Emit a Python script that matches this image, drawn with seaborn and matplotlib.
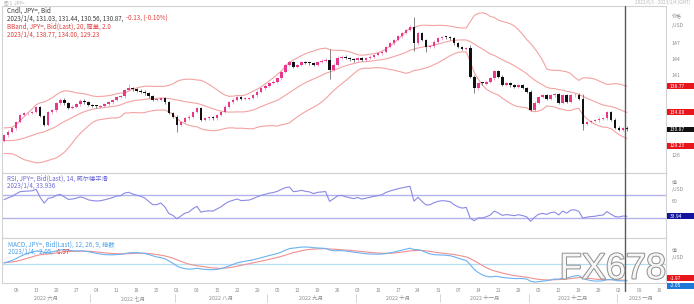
import numpy as np
import pandas as pd
import matplotlib
matplotlib.use("Agg")
import matplotlib.pyplot as plt
import seaborn as sns
from matplotlib import patheffects as pe
from matplotlib.lines import Line2D
from matplotlib.patches import Rectangle
from matplotlib.transforms import blended_transform_factory as blend

W, H = 694, 304

# ---------------- data ----------------
# closes before the first drawn day (Apr-May 2022), only used to warm up the indicators
warmup_closes = [122.5, 122.8, 123.6, 123.8, 123.9, 124.3, 125.4, 125.4, 125.6, 125.9,
                 126.4, 126.9, 128.9, 127.8, 128.4, 128.5, 128.1, 127.3, 128.4, 130.8,
                 129.8, 130.1, 130.1, 129.1, 130.2, 130.6, 130.3, 130.4, 129.9, 128.3,
                 129.2, 129.1, 129.4, 128.2, 127.8, 127.9, 127.9, 126.8, 127.3, 127.1,
                 127.1, 127.6, 128.7]

# daily closes, 2022-06-01 .. 2023-01-04 (weekdays)
closes_jun = [129.7, 130.4, 131.0, 132.2, 133.5, 133.8, 133.9, 134.1, 135.0, 133.3, 131.7,
              134.0, 134.4, 135.7, 136.4, 135.7, 134.9, 135.1, 135.5, 136.2, 135.9, 135.4]
closes_jul = [135.2, 135.1, 135.2, 135.5, 135.9, 136.3, 136.9, 137.0, 138.2, 138.6, 138.3,
              138.1, 137.9, 137.6, 137.0, 136.3, 136.3, 136.7, 135.9, 133.9, 133.2]
closes_aug = [131.6, 132.2, 132.9, 133.2, 134.1, 134.8, 132.6, 132.9, 133.0, 132.9, 133.5,
              134.1, 135.1, 135.9, 136.4, 136.9, 136.5, 136.6, 136.7, 137.2, 137.9, 138.5, 139.0]
closes_sep = [139.5, 139.8, 140.4, 141.6, 142.9, 143.5, 142.6, 142.9, 143.5, 143.3, 143.2,
              142.9, 143.5, 143.7, 143.9, 142.0, 143.0, 144.3, 144.5, 144.2, 144.0, 143.8]
closes_oct = [144.2, 143.9, 144.2, 144.5, 144.8, 145.1, 145.4, 146.3, 147.0, 147.6, 148.3,
              148.9, 149.5, 150.1, 147.0, 148.9, 147.6, 146.3, 146.4, 147.3, 147.9]
closes_nov = [148.2, 148.1, 147.9, 147.0, 146.3, 145.9, 146.1, 140.7, 138.5, 139.5, 139.4,
              139.8, 140.4, 141.8, 140.7, 139.2, 139.5, 139.1, 138.8, 139.1, 138.6, 137.9]
closes_dec = [134.5, 135.8, 136.9, 137.2, 136.6, 137.2, 137.4, 135.8, 137.2, 136.0, 137.2,
              137.3, 136.5, 131.8, 132.2, 132.4, 132.5, 132.8, 132.9, 134.1, 132.6, 131.1]
closes_jan = [130.7, 131.03, 130.87]

# notable wicks (index -> price)
wick_high = {31: 139.4, 81: 145.9, 102: 151.94, 116: 146.6, 144: 137.4, 155: 131.44}
wick_low = {43: 130.4, 81: 140.3, 102: 145.5, 105: 145.3, 117: 137.7, 144: 130.6, 155: 130.56}

month_names = {1: "一月", 6: "六月", 7: "七月", 8: "八月", 9: "九月",
               10: "十月", 11: "十一月", 12: "十二月"}

legend_cndl = ["Cndl, JPY=, Bid", "2023/1/4, 131.03, 131.44, 130.56, 130.87, ", "-0.13, (-0.10%)"]
legend_bb = ["BBand, JPY=, Bid(Last), 20, 简单, 2.0", "2023/1/4, 138.77, 134.00, 129.23"]
legend_rsi = ["RSI, JPY=, Bid(Last), 14, 威尔德平滑", "2023/1/4, 33.936"]
legend_macd = ["MACD, JPY=, Bid(Last), 12, 26, 9, 指数", "2023/1/4, -2.05, ", "-1.97"]

# ---------------- indicators ----------------
closes = closes_jun + closes_jul + closes_aug + closes_sep + closes_oct + closes_nov + closes_dec + closes_jan
allc = pd.Series(warmup_closes + closes, dtype=float)
nw = len(warmup_closes)
mid = allc.rolling(20).mean()
sd = allc.rolling(20).std(ddof=0)
up, lo = mid + 2 * sd, mid - 2 * sd
delta = allc.diff()
gain = delta.clip(lower=0).ewm(alpha=1 / 14, adjust=False).mean()
loss = (-delta.clip(upper=0)).ewm(alpha=1 / 14, adjust=False).mean()
rsi = 100 - 100 / (1 + gain / loss)
macd = allc.ewm(span=12, adjust=False).mean() - allc.ewm(span=26, adjust=False).mean()
sig = macd.ewm(span=9, adjust=False).mean()

n = len(closes)
opens = [warmup_closes[-1]] + closes[:-1]
df = pd.DataFrame({
    "idx": np.arange(n), "open": opens, "close": closes,
    "mid": mid.values[nw:], "up": up.values[nw:], "lo": lo.values[nw:],
    "rsi": rsi.values[nw:], "macd": macd.values[nw:], "sig": sig.values[nw:]})
df["high"] = [wick_high.get(i, max(o, c) + 0.25) for i, o, c in zip(df.idx, df.open, df.close)]
df["low"] = [wick_low.get(i, min(o, c) - 0.25) for i, o, c in zip(df.idx, df.open, df.close)]

dates = pd.bdate_range("2022-06-01", periods=166)

# ---------------- figure ----------------
sns.set_theme(style="white")
plt.rcParams['font.family'] = ['Noto Sans CJK SC', 'DejaVu Sans']
fig = plt.figure(figsize=(W / 100, H / 100), dpi=100)
fig.patch.set_facecolor("white")


def rect(x0, y0, x1, y1):
    return [x0 / W, 1 - y1 / H, (x1 - x0) / W, (y1 - y0) / H]


ax_m = fig.add_axes(rect(2, 6, 666, 173))
ax_r = fig.add_axes(rect(2, 173, 666, 238))
ax_d = fig.add_axes(rect(2, 238, 666, 283))
XL = (-0.5, 164.7)

PINK = "#e8388c"
BAND = "#f3a3a3"
GRAY = "#8c8c8c"

# candles
up_mask = df.close >= df.open
colors = np.where(up_mask, PINK, "#111111")
body = (df.close - df.open).values
body = np.where(np.abs(body) < 0.15, 0.15, body)
ax_m.vlines(df.idx, df.low, df.high, colors=np.where(up_mask, "#e58ab5", "#555555"), lw=0.5, zorder=2)
ax_m.bar(df.idx, body, bottom=df.open, width=0.62, color=colors, linewidth=0, zorder=3)
for col in ["up", "mid", "lo"]:
    sns.lineplot(data=df, x="idx", y=col, ax=ax_m, color=BAND, lw=0.8, legend=False, zorder=1)
ax_m.set_ylim(122.6, 154.0)

# RSI
for lvl in (70, 30):
    ax_r.axhline(lvl, color="#b3b3ee", lw=1.0, zorder=1)
sns.lineplot(data=df, x="idx", y="rsi", ax=ax_r, color="#8a8ae6", lw=0.8, legend=False, zorder=2)
ax_r.set_ylim(-5, 108)

# MACD
ax_d.axhline(0, color="#b5def2", lw=0.9, zorder=1)
sns.lineplot(data=df, x="idx", y="sig", ax=ax_d, color="#f09090", lw=0.8, legend=False, zorder=2)
sns.lineplot(data=df, x="idx", y="macd", ax=ax_d, color="#6ab2f2", lw=0.8, legend=False, zorder=3)
mx = max(df.macd.max(), df.sig.max())
mn = min(df.macd.min(), df.sig.min())
s = (mx - mn) / (282 - 247)
ax_d.set_ylim(mn - 1 * s, mx + 9 * s)

for ax in (ax_m, ax_r, ax_d):
    ax.set_xlim(*XL)
    ax.set_xlabel("")
    ax.set_ylabel("")
    ax.set_facecolor("white")
    for sp in ax.spines.values():
        sp.set_color("#d2d2d2")
        sp.set_linewidth(0.8)
    ax.yaxis.tick_right()
    ax.tick_params(axis="y", labelsize=3.8, colors=GRAY, length=0, pad=4)
    ax.tick_params(axis="x", length=0)

ax_m.set_xticks([])
ax_r.set_xticks([])
ax_m.set_yticks([126, 141, 144, 147])
ax_r.set_yticks([60])
ax_d.set_yticks([])

# date ticks (Mondays)
mondays = [i for i, d in enumerate(dates) if d.weekday() == 0 and i < 165]
ax_d.set_xticks(mondays)
ax_d.set_xticklabels([f"{dates[i].day:02d}" for i in mondays])
ax_d.tick_params(axis="x", labelsize=3.5, colors=GRAY, pad=3.5)

# month labels and separators
tr = blend(ax_d.transData, fig.transFigure)
mon = pd.Series(dates[:165].to_period("M"))
for p, grp in mon.groupby(mon):
    idxs = grp.index.values
    ax_d.text(idxs.mean(), 1 - 298.5 / H, f"{p.year} {month_names[p.month]}", transform=tr,
              ha="center", va="center", fontsize=3.9, color=GRAY, clip_on=False)
    if idxs.min() > 0:
        fig.add_artist(Line2D([idxs.min() - 0.5] * 2, [1 - 294 / H, 1 - 302 / H], transform=tr,
                              color="#cfcfcf", lw=0.6))

# crosshair
fig.add_artist(Line2D([154.6, 154.6], [1 - 6 / H, 1 - 291 / H], transform=tr, color="#5a5a5a", lw=1.0, zorder=10))


def T(x, y, s, **kw):
    kw.setdefault("fontsize", 4.5)
    kw.setdefault("va", "center")
    return fig.text(x / W, 1 - y / H, s, **kw)


# legends
T(7, 11, legend_cndl[0], color="#3a3a3a")
T(7, 19, legend_cndl[1], color="#3a3a3a")
T(126, 19, legend_cndl[2], color="#e23a3a")
T(7, 27, legend_bb[0], color="#e23a3a")
T(7, 35, legend_bb[1], color="#e23a3a")
T(7, 179, legend_rsi[0], color="#6a6ad8")
T(7, 186, legend_rsi[1], color="#6a6ad8")
T(8, 245, legend_macd[0], color="#4aa0e6")
T(8, 252, legend_macd[1], color="#4aa0e6")
T(56, 252, legend_macd[2], color="#e23a3a")

# top header
T(4, 2.5, "图 1  JPY=", color="#b0b0b0", fontsize=3.3)
T(690, 2.5, "2022/6/1 - 2023/1/4 (GMT)", color="#b8b8b8", fontsize=3.3, ha="right")

# axis headers
T(672, 17, "价格", color=GRAY, fontsize=3.6)
T(672, 25, "/USD", color=GRAY, fontsize=3.6)
T(672, 182, "值", color=GRAY, fontsize=3.6)
T(672, 190, "/USD", color=GRAY, fontsize=3.6)
T(672, 250, "值", color=GRAY, fontsize=3.6)
T(672, 258, "/USD", color=GRAY, fontsize=3.6)


def vbox(ax, yval, text, fc, dy_px=0, h_px=6):
    trans = ax.transData.transform((0, yval))
    ypx = H - trans[1] + dy_px
    fig.add_artist(Rectangle((667 / W, 1 - (ypx + h_px / 2) / H), 27 / W, h_px / H,
                             transform=fig.transFigure, fc=fc, ec="none", zorder=5))
    T(670, ypx, text, color="white", fontsize=3.6, zorder=6)


fig.canvas.draw()
vbox(ax_m, df.up.iloc[-1], legend_bb[1].split(", ")[1], "#e8161c")
vbox(ax_m, df.mid.iloc[-1], legend_bb[1].split(", ")[2], "#e8161c")
vbox(ax_m, closes[-1], f"{closes[-1]:.2f}", "#111111", h_px=5)
vbox(ax_m, df.lo.iloc[-1], legend_bb[1].split(", ")[3], "#e8161c", dy_px=7)
vbox(ax_r, df.rsi.iloc[-1], "33.94", "#1414a0")
vbox(ax_d, df.sig.iloc[-1], "-1.97", "#e8161c", dy_px=-2)
vbox(ax_d, df.macd.iloc[-1], "-2.05", "#1e78d8", dy_px=5)

# watermark
fig.text(613 / W, 1 - 269 / H, "FX678", fontsize=26, family=["Liberation Sans", "DejaVu Sans"],
         color="#f6f6f6", ha="center", va="center", zorder=20,
         path_effects=[pe.withStroke(linewidth=1.4, foreground="#8e8e8e")])

fig.savefig("out.png", dpi=100, facecolor="white")
